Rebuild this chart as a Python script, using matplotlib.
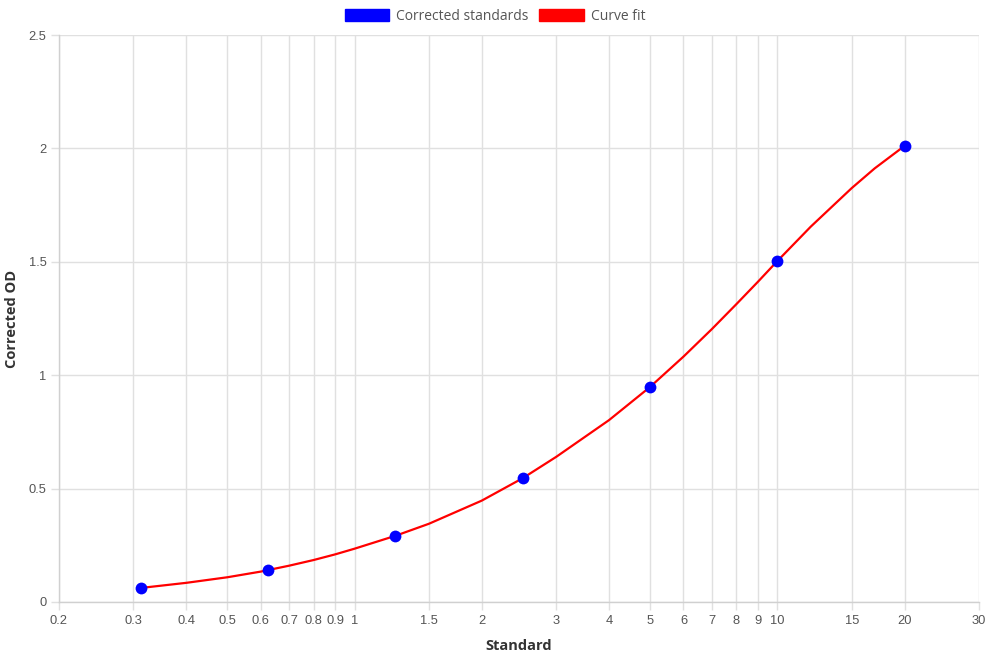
import matplotlib
matplotlib.use("Agg")
import matplotlib.pyplot as plt
from matplotlib.patches import Patch
from matplotlib.ticker import FixedLocator, FixedFormatter, NullLocator

# Data
std_x = [0.3125, 0.625, 1.25, 2.5, 5, 10, 20]
std_y = [0.062, 0.141, 0.291, 0.547, 0.948, 1.505, 2.011]

fit_x = [0.3125, 0.4, 0.5, 0.6, 0.625, 0.7, 0.8, 0.9, 1.0, 1.25, 1.5, 2.0, 2.5, 3, 4, 5, 6, 7, 8, 9, 10,
         12, 15, 17, 20]
fit_y = [0.062, 0.0845, 0.109, 0.134, 0.141, 0.160, 0.185, 0.210, 0.235, 0.292, 0.345, 0.447, 0.546,
         0.640, 0.802, 0.948, 1.082, 1.203, 1.313, 1.412, 1.503, 1.655, 1.825, 1.912, 2.011]

x_ticks = [0.2, 0.3, 0.4, 0.5, 0.6, 0.7, 0.8, 0.9, 1, 1.5, 2, 3, 4, 5, 6, 7, 8, 9, 10, 15, 20, 30]
x_tick_labels = ["0.2", "0.3", "0.4", "0.5", "0.6", "0.7", "0.8", "0.9", "1", "1.5", "2", "3", "4", "5",
                 "6", "7", "8", "9", "10", "15", "20", "30"]
y_ticks = [0, 0.5, 1, 1.5, 2, 2.5]
y_tick_labels = ["0", "0.5", "1", "1.5", "2", "2.5"]

W, H = 990, 660
fig = plt.figure(figsize=(W / 100, H / 100), dpi=100)
L, R, T, B = 59, 979, 35, 602
ax = fig.add_axes([L / W, 1 - B / H, (R - L) / W, (B - T) / H])

grid_c = "#e0e0e0"
tick_font = ["Liberation Sans", "DejaVu Sans"]
title_font = ["Open Sans", "DejaVu Sans"]

ax.plot(fit_x, fit_y, color="#ff0000", lw=1.6, zorder=3, solid_capstyle="round", solid_joinstyle="round")
ax.plot(std_x, std_y, "o", color="#0000ff", markersize=8.5, zorder=4, markeredgewidth=0)

ax.set_xscale("log")
ax.set_xlim(0.2, 30)
ax.set_ylim(0, 2.5)
ax.xaxis.set_major_locator(FixedLocator(x_ticks))
ax.xaxis.set_major_formatter(FixedFormatter(x_tick_labels))
ax.xaxis.set_minor_locator(NullLocator())
ax.yaxis.set_major_locator(FixedLocator(y_ticks))
ax.yaxis.set_major_formatter(FixedFormatter(y_tick_labels))

ax.grid(True, color=grid_c, lw=1)
ax.set_axisbelow(True)
for s in ["top", "right"]:
    ax.spines[s].set_visible(False)
for s in ["left", "bottom"]:
    ax.spines[s].set_color("#d0d0d0")
    ax.spines[s].set_linewidth(1)

ax.tick_params(axis="both", length=6, color=grid_c, width=1, labelsize=9.3, labelcolor="#555555", pad=3)
for lab in ax.get_xticklabels() + ax.get_yticklabels():
    lab.set_fontfamily(tick_font)

ax.set_xlabel("Standard", fontsize=10.5, fontweight="bold", color="#333333", family=title_font, labelpad=9)
ax.set_ylabel("Corrected OD", fontsize=10.5, fontweight="bold", color="#333333", family=title_font, labelpad=7)

handles = [Patch(facecolor="#0000ff", edgecolor="#0000ff", label="Corrected standards"),
           Patch(facecolor="#ff0000", edgecolor="#ff0000", label="Curve fit")]
leg = fig.legend(handles=handles, loc="center", bbox_to_anchor=(0.5, 1 - 16.5 / H), ncol=2, frameon=False,
                 handlelength=3.2, handleheight=0.95, handletextpad=0.5, columnspacing=0.8,
                 prop={"family": title_font, "size": 10})
for t in leg.get_texts():
    t.set_color("#555555")

fig.savefig("out.png", dpi=100)
